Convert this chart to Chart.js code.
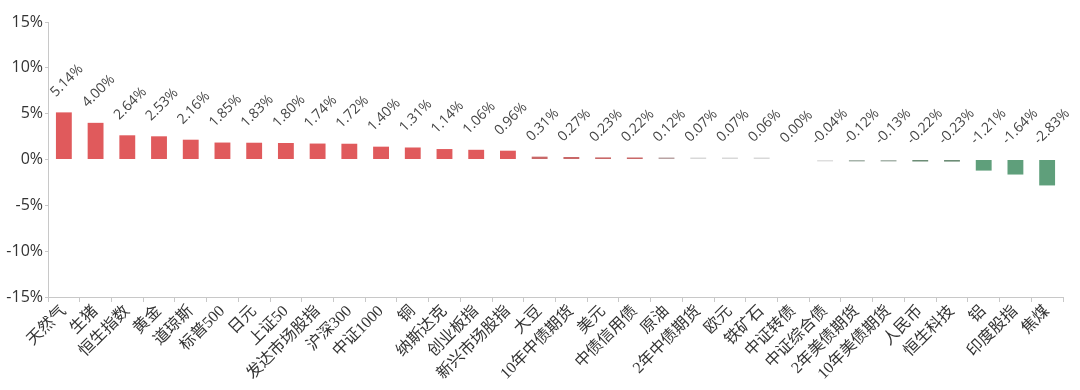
<!DOCTYPE html>
<html lang="zh">
<head>
  <meta charset="UTF-8" />
  <title>资产涨跌幅</title>
  <script src="https://cdn.jsdelivr.net/npm/chart.js"></script>
  <style>
    html, body { margin: 0; padding: 0; background: #fff; }
    #wrap { width: 1080px; height: 390px; position: relative; }
  </style>
</head>
<body>
  <div id="wrap"><canvas id="chart"></canvas></div>

  <script>
    const categories = ['天然气', '生猪', '恒生指数', '黄金', '道琼斯', '标普500', '日元', '上证50',
      '发达市场股指', '沪深300', '中证1000', '铜', '纳斯达克', '创业板指', '新兴市场股指', '大豆',
      '10年中债期货', '美元', '中债信用债', '原油', '2年中债期货', '欧元', '铁矿石', '中证转债',
      '中证综合债', '2年美债期货', '10年美债期货', '人民币', '恒生科技', '铝', '印度股指', '焦煤'];
    const returns = [5.14, 4.00, 2.64, 2.53, 2.16, 1.85, 1.83, 1.80,
      1.74, 1.72, 1.40, 1.31, 1.14, 1.06, 0.96, 0.31,
      0.27, 0.23, 0.22, 0.12, 0.07, 0.07, 0.06, 0.00,
      -0.04, -0.12, -0.13, -0.22, -0.23, -1.21, -1.64, -2.83];
    const yTicks = [-15, -10, -5, 0, 5, 10, 15];

    // colour fades to grey for tiny moves, nothing for a flat one
    function barColor(v) {
      if (v >= 0.5) return '#e05a5c';
      if (v >= 0.2) return '#c96868';
      if (v >= 0.1) return '#b9a3a3';
      if (v > 0) return '#d8d8d8';
      if (v === 0) return 'rgba(0,0,0,0)';
      if (v > -0.1) return '#dedede';
      if (v > -0.2) return '#a7b4ab';
      if (v > -0.5) return '#6c8d76';
      return '#5f9f7b';
    }

    const valueLabels = {
      id: 'valueLabels',
      afterDatasetsDraw(chart) {
        const ctx = chart.ctx;
        const meta = chart.getDatasetMeta(0);
        ctx.save();
        ctx.font = '14px "Open Sans", "Noto Sans", sans-serif';
        ctx.fillStyle = '#444';
        ctx.textAlign = 'left';
        ctx.textBaseline = 'alphabetic';
        meta.data.forEach((bar, i) => {
          const top = Math.min(bar.y, bar.base);
          ctx.save();
          ctx.translate(bar.x - 8, top - 15);
          ctx.rotate(-Math.PI / 4);
          ctx.fillText(returns[i].toFixed(2) + '%', 0, 0);
          ctx.restore();
        });
        ctx.restore();
      }
    };

    new Chart(document.getElementById('chart'), {
      type: 'bar',
      data: {
        labels: categories,
        datasets: [{
          data: returns,
          backgroundColor: returns.map(barColor),
          barPercentage: 0.5,
          categoryPercentage: 1,
          minBarLength: 2
        }]
      },
      options: {
        responsive: true,
        maintainAspectRatio: false,
        animation: false,
        layout: { padding: { top: 22, right: 17, left: 0, bottom: 0 } },
        plugins: { legend: { display: false }, tooltip: { enabled: false } },
        scales: {
          x: {
            grid: { display: true, drawOnChartArea: false, color: '#c8c8c8', tickLength: 5 },
            border: { color: '#c8c8c8' },
            ticks: {
              color: '#333',
              font: { family: '"Liberation Serif", "Noto Sans CJK SC", serif', size: 16 },
              minRotation: 45,
              maxRotation: 45,
              autoSkip: false,
              padding: 0
            },
            afterFit(scale) { scale.height = 93; }
          },
          y: {
            min: -15,
            max: 15,
            afterBuildTicks(scale) { scale.ticks = yTicks.map(v => ({ value: v })); },
            grid: { display: true, drawOnChartArea: false, color: '#c8c8c8', tickLength: 3 },
            border: { color: '#c8c8c8' },
            ticks: {
              color: '#333',
              font: { family: '"Open Sans", "Noto Sans", sans-serif', size: 16 },
              padding: 2,
              callback: v => v + '%'
            },
            afterFit(scale) { scale.width = 48; }
          }
        }
      },
      plugins: [valueLabels]
    });
  </script>
</body>
</html>
